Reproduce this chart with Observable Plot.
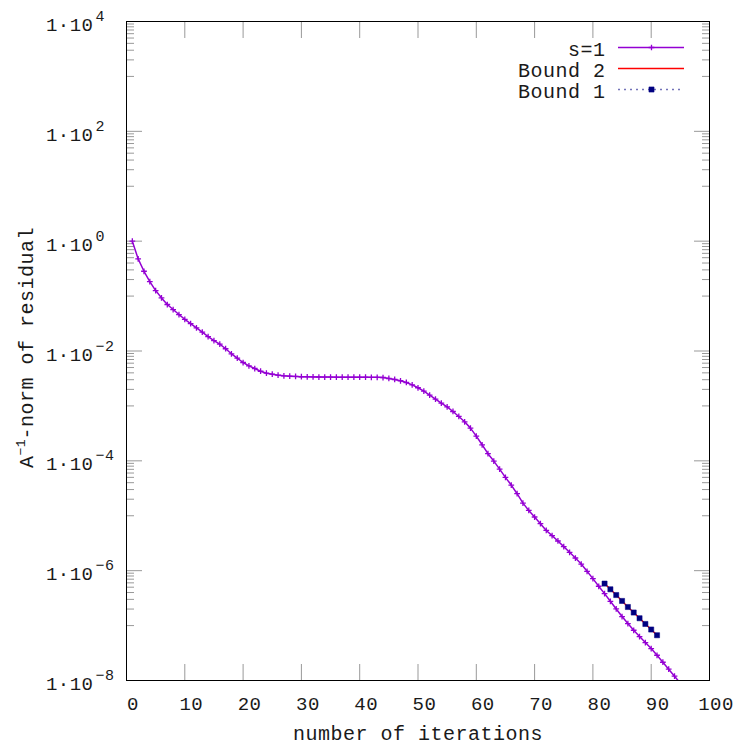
<!DOCTYPE html>
<html><head><meta charset="utf-8">
<script src="https://cdn.jsdelivr.net/npm/d3@7"></script>
<script src="https://cdn.jsdelivr.net/npm/@observablehq/plot@0.6"></script>
<style>html,body{margin:0;padding:0;background:#fff}svg{display:block}</style>
</head><body><div id="chart"></div>
<script>
// s=1 residual, iterations 1..95
const s1Values = [
  1.0, 0.475, 0.283, 0.184, 0.126, 0.0927, 0.0702, 0.0569, 0.0461, 0.0378,
  0.0316, 0.0264, 0.0220, 0.0183, 0.0155, 0.0133, 0.0110, 0.00889, 0.00740, 0.00617,
  0.00537, 0.00480, 0.00428, 0.00394, 0.00378, 0.00363, 0.00353, 0.00348, 0.00344, 0.00340,
  0.00338, 0.00337, 0.00336, 0.00335, 0.00335, 0.00334, 0.00334, 0.00334, 0.00334, 0.00333,
  0.00333, 0.00332, 0.00331, 0.00329, 0.00316, 0.00303, 0.00287, 0.00267, 0.00242, 0.00214,
  0.00186, 0.00157, 0.00133, 0.00112, 0.000964, 0.000792, 0.000643, 0.000514, 0.000394, 0.000282,
  0.000196, 0.000135, 9.9e-5, 7.08e-5, 4.99e-5, 3.62e-5, 2.52e-5, 1.70e-5, 1.25e-5, 9.48e-6,
  7.18e-6, 5.4e-6, 4.34e-6, 3.47e-6, 2.74e-6, 2.16e-6, 1.70e-6, 1.32e-6, 9.73e-7, 7.16e-7,
  5.20e-7, 3.82e-7, 2.77e-7, 2.01e-7, 1.46e-7, 1.09e-7, 8.22e-8, 6.31e-8, 4.91e-8, 3.82e-8,
  2.88e-8, 2.15e-8, 1.61e-8, 1.20e-8, 8.9e-9
];
const s1FirstIteration = 1;
const boundIterations = [82, 83, 84, 85, 86, 87, 88, 89, 90, 91];
const bound1Values = [5.82e-7, 4.58e-7, 3.60e-7, 2.81e-7, 2.18e-7, 1.73e-7, 1.36e-7, 1.07e-7, 8.48e-8, 6.67e-8];
const bound2Values = [5.82e-7, 4.58e-7, 3.60e-7, 2.81e-7, 2.18e-7, 1.73e-7, 1.36e-7, 1.07e-7, 8.48e-8, 6.67e-8];

const xTickValues = [0, 10, 20, 30, 40, 50, 60, 70, 80, 90, 100];
const yLabelExponents = [-8, -6, -4, -2, 0, 2, 4];
const yMinorExponents = [-7, -5, -3, -1, 1, 3];
const minorMultipliers = [1, 2, 3, 4, 5, 6, 7, 8, 9];
const legendLabels = ["s=1", "Bound 2", "Bound 1"];
const xTitle = "number of iterations";
const yTitleParts = ["A", "\u22121", "-norm of residual"];

const purple = "#9400d3", red = "#ff0000", navy = "#000080", grey = "#999999", ink = "#1a1a1a";
const FONT = "'Liberation Mono', 'DejaVu Sans Mono', monospace";

const s1 = s1Values.map((v, i) => ({it: s1FirstIteration + i, v}));
const bounds = boundIterations.map((it, i) => ({it, b1: bound1Values[i], b2: bound2Values[i]}));
const yMajor = yLabelExponents.map(e => 10 ** e);
const yMinor = yMinorExponents.flatMap(e => minorMultipliers.map(k => k * 10 ** e));
const xMajor = xTickValues;

const fmtExp = e => (e < 0 ? "\u2212" + (-e) : String(e));

const tickAxes = [
  Plot.axisY({anchor: "left", ticks: yMajor, tickSize: 16, dx: 16, stroke: grey, fill: "none", label: null}),
  Plot.axisY({anchor: "left", ticks: yMinor, tickSize: 8, dx: 8, stroke: grey, fill: "none", label: null}),
  Plot.axisY({anchor: "right", ticks: yMajor, tickSize: 16, dx: -16, stroke: grey, fill: "none", label: null}),
  Plot.axisY({anchor: "right", ticks: yMinor, tickSize: 8, dx: -8, stroke: grey, fill: "none", label: null}),
  Plot.axisX({anchor: "bottom", ticks: xMajor, tickSize: 16, dy: -16, stroke: grey, fill: "none", label: null}),
  Plot.axisX({anchor: "top", ticks: xMajor, tickSize: 16, dy: 16, stroke: grey, fill: "none", label: null})
];

const legendRowDy = [26, 47, 68];
const legendMarks = [
  ...legendLabels.map((name, i) => Plot.text([name], {
    frameAnchor: "top-right", text: d => d, textAnchor: "end", lineAnchor: "bottom",
    dx: -104, dy: legendRowDy[i] + 8, fontSize: 20, fill: ink
  })),
  Plot.ruleY([1e4], {y: d => d, dy: legendRowDy[0], insetLeft: 492, insetRight: 25, stroke: purple, strokeWidth: 1.5}),
  Plot.dot([0], {frameAnchor: "top-right", dx: -58, dy: legendRowDy[0], symbol: "plus", r: 2, stroke: purple, strokeWidth: 1.3}),
  Plot.ruleY([1e4], {y: d => d, dy: legendRowDy[1], insetLeft: 492, insetRight: 25, stroke: red, strokeWidth: 1.5}),
  Plot.ruleY([1e4], {y: d => d, dy: legendRowDy[2], insetLeft: 492, insetRight: 25, stroke: navy, strokeOpacity: 0.55, strokeWidth: 1.3, strokeDasharray: "2,4"}),
  Plot.dot([0], {frameAnchor: "top-right", dx: -58, dy: legendRowDy[2], symbol: "square", r: 2.9, fill: navy, stroke: navy, strokeWidth: 0.5})
];

const chart = Plot.plot({
  width: 747,
  height: 747,
  marginLeft: 126,
  marginRight: 38,
  marginTop: 21,
  marginBottom: 67,
  style: {fontFamily: FONT, fontSize: "19px", background: "#fff", color: "#000", letterSpacing: "0.5px"},
  x: {domain: [0, 100], axis: null},
  y: {type: "log", domain: [1e-8, 1e4], axis: null},
  marks: [
    ...tickAxes,
    Plot.line(s1, {x: "it", y: "v", stroke: purple, strokeWidth: 1.5, clip: true}),
    Plot.dot(s1, {x: "it", y: "v", symbol: "plus", r: 2, stroke: purple, strokeWidth: 1.3, clip: true}),
    Plot.line(bounds, {x: "it", y: "b2", stroke: red, strokeWidth: 1.3}),
    Plot.dot(bounds, {x: "it", y: "b1", symbol: "square", r: 2.9, fill: navy, stroke: navy, strokeWidth: 0.5}),
    Plot.frame({stroke: "#000", strokeWidth: 1}),
    // y tick labels 1·10^e
    Plot.text(yLabelExponents, {y: e => 10 ** e, text: () => "1\u00b710", frameAnchor: "left", textAnchor: "end", lineAnchor: "bottom", dx: -33, dy: 9.6, fontSize: 19, fill: ink}),
    Plot.text(yLabelExponents, {y: e => 10 ** e, text: fmtExp, frameAnchor: "left", textAnchor: "start", lineAnchor: "bottom", dx: -31, dy: -0.5, fontSize: 15, fill: ink}),
    // x tick labels
    Plot.text(xTickValues, {x: d => d, text: d => String(d), frameAnchor: "bottom", lineAnchor: "bottom", dx: 6.5, dy: 29, fontSize: 19, fill: ink}),
    // axis titles
    Plot.text([xTitle], {frameAnchor: "bottom", text: d => d, lineAnchor: "bottom", dy: 59, fontSize: 20, fill: ink}),
    Plot.text([yTitleParts[0]], {frameAnchor: "left", text: d => d, rotate: -90, textAnchor: "start", lineAnchor: "bottom", dx: -94, dy: 117, fontSize: 20, fill: ink}),
    Plot.text([yTitleParts[1]], {frameAnchor: "left", text: d => d, rotate: -90, textAnchor: "start", lineAnchor: "bottom", dx: -102, dy: 104.5, fontSize: 13, fill: ink}),
    Plot.text([yTitleParts[2]], {frameAnchor: "left", text: d => d, rotate: -90, textAnchor: "start", lineAnchor: "bottom", dx: -94, dy: 88.5, fontSize: 20, fill: ink}),
    ...legendMarks
  ]
});
document.getElementById("chart").appendChild(chart);
</script>
</body></html>
